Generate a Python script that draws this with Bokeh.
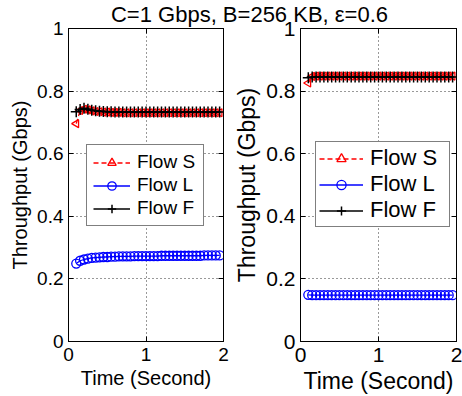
import numpy as np
from bokeh.plotting import figure
from bokeh.layouts import column, row
from bokeh.models import Label, LinearAxis, FixedTicker, Legend
from bokeh.embed import file_html
from bokeh.resources import INLINE

title_text = "C=1 Gbps, B=256 KB, \u03b5=0.6"
x_label = "Time (Second)"
y_label = "Throughput (Gbps)"
series_names = ["Flow S", "Flow L", "Flow F"]

x_ticks = [0, 1, 2]
x_tick_labels = ["0", "1", "2"]
y_ticks = [0, 0.2, 0.4, 0.6, 0.8, 1.0]
y_tick_labels = ["0", "0.2", "0.4", "0.6", "0.8", "1"]

time_s = [0.10, 0.15, 0.20, 0.25, 0.30, 0.35, 0.40, 0.45, 0.50, 0.55,
          0.60, 0.65, 0.70, 0.75, 0.80, 0.85, 0.90, 0.95, 1.00, 1.05,
          1.10, 1.15, 1.20, 1.25, 1.30, 1.35, 1.40, 1.45, 1.50, 1.55,
          1.60, 1.65, 1.70, 1.75, 1.80, 1.85, 1.90, 1.95]

left_S = [0.696, 0.738, 0.742, 0.740, 0.737, 0.735, 0.734, 0.733, 0.733, 0.732,
          0.732, 0.732, 0.731, 0.731, 0.731, 0.731, 0.731, 0.731, 0.731, 0.731,
          0.731, 0.731, 0.731, 0.731, 0.731, 0.731, 0.731, 0.731, 0.731, 0.731,
          0.731, 0.731, 0.731, 0.731, 0.731, 0.731, 0.731, 0.731]
left_L = [0.249, 0.258, 0.262, 0.265, 0.267, 0.268, 0.269, 0.270, 0.270, 0.271,
          0.271, 0.272, 0.272, 0.272, 0.272, 0.273, 0.273, 0.273, 0.273, 0.273,
          0.273, 0.273, 0.274, 0.274, 0.274, 0.274, 0.274, 0.274, 0.274, 0.274,
          0.274, 0.274, 0.274, 0.275, 0.275, 0.275, 0.275, 0.275]
left_F = [0.734, 0.741, 0.745, 0.742, 0.739, 0.737, 0.736, 0.735, 0.734, 0.734,
          0.733, 0.733, 0.733, 0.733, 0.733, 0.733, 0.733, 0.733, 0.733, 0.733,
          0.733, 0.733, 0.733, 0.733, 0.733, 0.733, 0.733, 0.733, 0.733, 0.733,
          0.733, 0.733, 0.733, 0.733, 0.733, 0.733, 0.733, 0.733]

right_S = [0.826, 0.847, 0.848, 0.848, 0.848, 0.848, 0.848, 0.848, 0.848, 0.848,
           0.848, 0.848, 0.848, 0.848, 0.848, 0.848, 0.848, 0.848, 0.848, 0.848,
           0.848, 0.848, 0.848, 0.848, 0.848, 0.848, 0.848, 0.848, 0.848, 0.848,
           0.848, 0.848, 0.848, 0.848, 0.848, 0.848, 0.848, 0.848]
right_L = [0.149, 0.148, 0.148, 0.148, 0.148, 0.148, 0.148, 0.148, 0.148, 0.148,
           0.148, 0.148, 0.148, 0.148, 0.148, 0.148, 0.148, 0.148, 0.148, 0.148,
           0.148, 0.148, 0.148, 0.148, 0.148, 0.148, 0.148, 0.148, 0.148, 0.148,
           0.148, 0.148, 0.148, 0.148, 0.148, 0.148, 0.148, 0.148]
right_F = [0.843, 0.845, 0.845, 0.845, 0.845, 0.845, 0.845, 0.845, 0.845, 0.845,
           0.845, 0.845, 0.845, 0.845, 0.845, 0.845, 0.845, 0.845, 0.845, 0.845,
           0.845, 0.845, 0.845, 0.845, 0.845, 0.845, 0.845, 0.845, 0.845, 0.845,
           0.845, 0.845, 0.845, 0.845, 0.845, 0.845, 0.845, 0.845]

FONT = "Liberation Sans"


def style_axis(ax, ticks, labels, fs, show_labels=True):
    ax.ticker = FixedTicker(ticks=ticks)
    if show_labels:
        ax.major_label_overrides = {t: l for t, l in zip(ticks, labels)}
    else:
        ax.major_label_overrides = {t: "" for t in ticks}
        ax.major_label_standoff = 0
    ax.major_label_text_font_size = fs
    ax.major_tick_in = 5
    ax.major_tick_out = 0
    ax.minor_tick_in = 0
    ax.minor_tick_out = 0
    ax.axis_line_color = "black"
    ax.major_tick_line_color = "black"
    ax.major_label_text_font = FONT
    ax.major_label_text_color = "black"


def make_panel(S, L, F, tick_fs, lab_fs, leg_fs, min_left, min_right, leg_loc,
               glyph_w, row_h, row_sp, pad, label_w):
    p = figure(width=231, height=396, output_backend="svg", toolbar_location=None,
               x_range=(0, 2), y_range=(0, 1),
               min_border_left=min_left, min_border_right=min_right,
               min_border_top=28, min_border_bottom=55)
    p.outline_line_color = "black"
    p.outline_line_width = 1
    p.background_fill_color = "white"
    p.border_fill_color = "white"

    style_axis(p.xaxis[0], x_ticks, x_tick_labels, tick_fs)
    style_axis(p.yaxis[0], y_ticks, y_tick_labels, tick_fs)
    p.xaxis[0].major_label_standoff = 6
    p.yaxis[0].major_label_standoff = 5
    for ax in (p.xaxis[0], p.yaxis[0]):
        ax.axis_label_text_font = FONT
        ax.axis_label_text_font_size = lab_fs
        ax.axis_label_text_font_style = "normal"
        ax.axis_label_text_color = "black"
        ax.axis_label_standoff = 3
    p.xaxis[0].axis_label = x_label
    p.yaxis[0].axis_label = y_label

    top = LinearAxis()
    right = LinearAxis()
    style_axis(top, x_ticks, x_tick_labels, "10px", show_labels=False)
    style_axis(right, y_ticks, y_tick_labels, "10px", show_labels=False)
    p.add_layout(top, "above")
    p.add_layout(right, "right")

    p.xgrid[0].ticker = FixedTicker(ticks=x_ticks)
    p.ygrid[0].ticker = FixedTicker(ticks=y_ticks)
    for g in (p.xgrid[0], p.ygrid[0]):
        g.grid_line_color = "#333333"
        g.grid_line_dash = "1 3"
        g.grid_line_width = 1

    rS1 = p.line(time_s, S, line_color="red", line_width=1.3, line_dash="5 3")
    rS2 = p.scatter(time_s, S, marker="triangle", angle=np.pi / 2, size=8,
                    line_color="red", fill_color=None, line_width=1.3)
    rL1 = p.line(time_s, L, line_color="blue", line_width=1.3)
    rL2 = p.scatter(time_s, L, marker="circle", size=9,
                    line_color="blue", fill_color=None, line_width=1.3)
    rF1 = p.line(time_s, F, line_color="black", line_width=1.3)
    rF2 = p.scatter(time_s, F, marker="cross", size=11,
                    line_color="black", line_width=1.5)

    legend = Legend(items=[(series_names[0], [rS1, rS2]),
                           (series_names[1], [rL1, rL2]),
                           (series_names[2], [rF1, rF2])],
                    location=leg_loc)
    legend.label_text_font = FONT
    legend.label_text_font_size = leg_fs
    legend.label_text_color = "black"
    legend.border_line_color = "black"
    legend.border_line_width = 1
    legend.background_fill_alpha = 1.0
    legend.glyph_width = glyph_w
    legend.glyph_height = row_h
    legend.label_height = row_h
    legend.label_width = label_w
    legend.label_standoff = 7
    legend.spacing = row_sp
    legend.padding = pad
    legend.margin = 0
    p.add_layout(legend, "center")
    return p


left = make_panel(left_S, left_L, left_F, "19px", "20px", "19px", 68, 8, (18, 115),
                  37, 21, 1, 6, 60)
right = make_panel(right_S, right_L, right_F, "21px", "23px", "22px", 69, 6, (15, 114),
                   44, 23, 0, 3, 76)

TH = 60
tfig = figure(width=462, height=TH, output_backend="svg", toolbar_location=None,
              x_range=(0, 1), y_range=(0, 1), min_border=0,
              margin=(-396, 0, 0, 0))
tfig.axis.visible = False
tfig.grid.visible = False
tfig.outline_line_color = None
tfig.background_fill_alpha = 0
tfig.border_fill_alpha = 0
tfig.add_layout(Label(x=249, y=TH - 14, x_units="screen", y_units="screen", text=title_text,
                      text_align="center", text_baseline="middle",
                      text_font=FONT, text_font_size="22px", text_color="black"))

panels = row(left, right, spacing=0)
layout = column(panels, tfig, spacing=0)
open("out.html", "w").write(file_html(layout, INLINE))
